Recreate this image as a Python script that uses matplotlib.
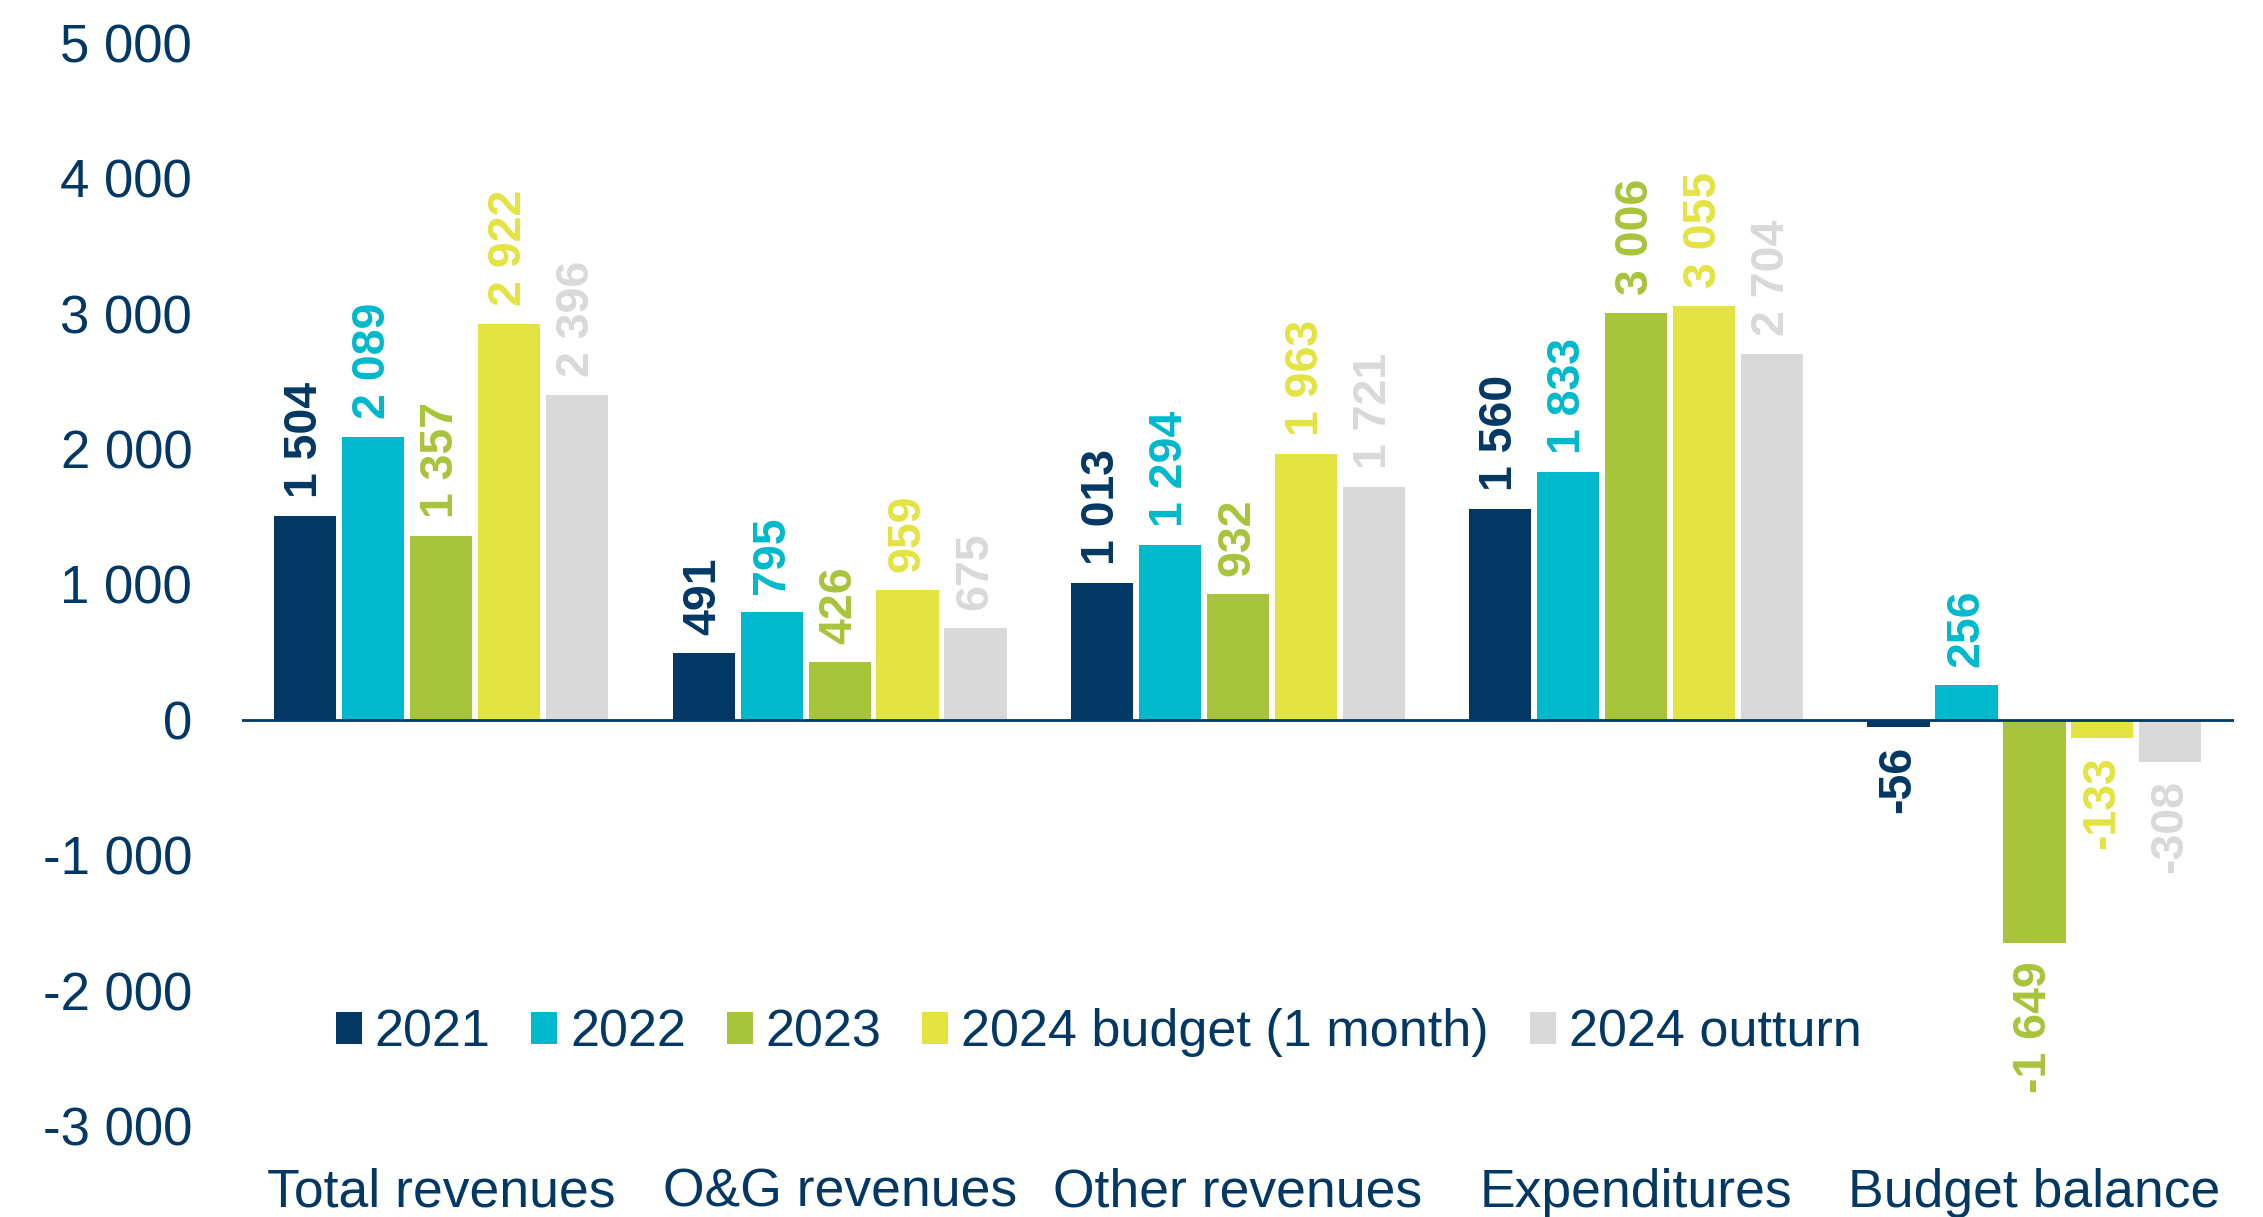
import numpy as np
import matplotlib.pyplot as plt

plt.rcParams['font.family'] = ['Liberation Sans', 'DejaVu Sans']

categories = ['Total revenues', 'O&G revenues', 'Other revenues', 'Expenditures', 'Budget balance']
series_names = ['2021', '2022', '2023', '2024 budget (1 month)', '2024 outturn']
v2021 = [1504, 491, 1013, 1560, -56]
v2022 = [2089, 795, 1294, 1833, 256]
v2023 = [1357, 426, 932, 3006, -1649]
v2024_budget = [2922, 959, 1963, 3055, -133]
v2024_outturn = [2396, 675, 1721, 2704, -308]
yticks = [-3000, -2000, -1000, 0, 1000, 2000, 3000, 4000, 5000]

colors = ['#033864', '#00B9CC', '#A8C43A', '#E3E342', '#D9D9D9']
navy = '#033864'

def fmt(v):
    s = f"{abs(v):,}".replace(',', ' ')
    return ('-' if v < 0 else '') + s

fig = plt.figure(figsize=(22.63, 12.17), dpi=100)
ax = fig.add_axes([0.107, 0.0748, 0.880, 0.8899])

x = np.arange(len(categories))
step = 0.1707
width = 0.156
all_series = [v2021, v2022, v2023, v2024_budget, v2024_outturn]
for i, (vals, name, c) in enumerate(zip(all_series, series_names, colors)):
    pos = x + (i - 2) * step
    ax.bar(pos, vals, width, color=c, label=name, zorder=2)
    for px, v in zip(pos, vals):
        if v >= 0:
            ax.annotate(fmt(v), (px, v), xytext=(0, 13), textcoords='offset points',
                        rotation=90, ha='center', va='bottom', fontsize=33.5,
                        fontweight='bold', color=c)
        else:
            ax.annotate(fmt(v), (px, v), xytext=(0, -13), textcoords='offset points',
                        rotation=90, ha='center', va='top', fontsize=33.5,
                        fontweight='bold', color=c)

ax.axhline(0, color=navy, linewidth=2, zorder=3)
ax.set_xlim(-0.5, len(categories) - 0.5)
ax.set_ylim(-3000, 5000)
ax.set_yticks(yticks)
ax.set_yticklabels([fmt(t) for t in yticks])
ax.set_xticks(x)
ax.set_xticklabels(categories)
ax.tick_params(axis='both', length=0, colors=navy)
ax.tick_params(axis='y', pad=36, labelsize=38)
ax.tick_params(axis='x', pad=30, labelsize=38.5)
for s in ax.spines.values():
    s.set_visible(False)

leg = ax.legend(loc='center', bbox_to_anchor=(0.43, 0.086), ncol=5, frameon=False,
                fontsize=37.5, handlelength=0.5, handleheight=0.55, handletextpad=0.25,
                columnspacing=0.78, borderaxespad=0)
for t in leg.get_texts():
    t.set_color(navy)

fig.savefig('out.png', dpi=100)
